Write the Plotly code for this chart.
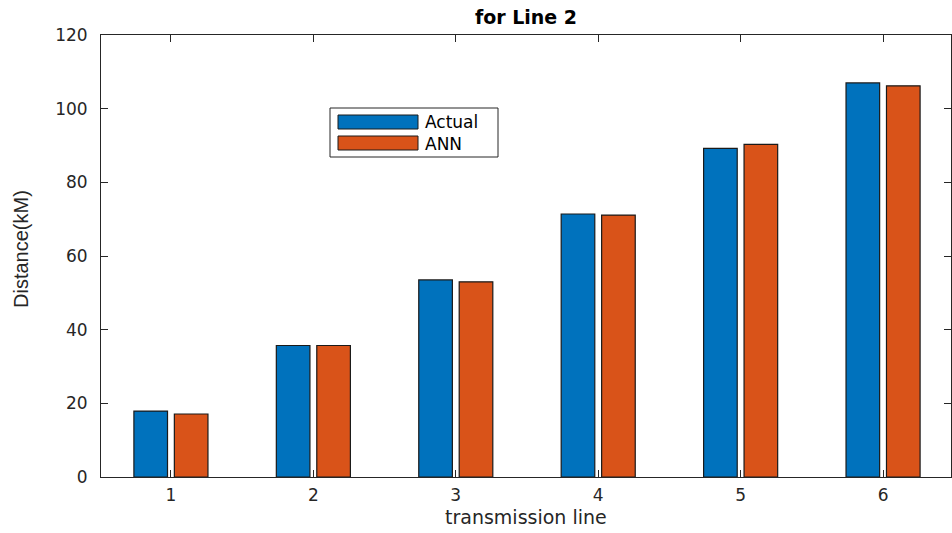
import plotly.graph_objects as go

categories = [1, 2, 3, 4, 5, 6]
actual = [17.9, 35.7, 53.5, 71.4, 89.2, 107.0]
ann = [17.1, 35.7, 53.0, 71.1, 90.3, 106.2]
series_names = ["Actual", "ANN"]
y_ticks = [0, 20, 40, 60, 80, 100, 120]

BLUE = "#0072BD"
ORANGE = "#D95319"
AX = "#262626"
FONT = "DejaVu Sans"

W, H = 952, 533
L, T = 101, 35
PW, PH = 850, 442
R = W - L - PW
B = H - T - PH

def px(x):  # page pixel -> paper
    return (x - L) / PW

def py(y):
    return (T + PH - y) / PH

def cx(x):  # page pixel -> container
    return x / W

def cy(y):
    return 1 - y / H

fig = go.Figure()
fig.add_trace(go.Bar(x=categories, y=actual, name=series_names[0], width=0.236, offset=-0.26,
                     marker=dict(color=BLUE, line=dict(color="#1a1a1a", width=1.2)), showlegend=False))
fig.add_trace(go.Bar(x=categories, y=ann, name=series_names[1], width=0.236, offset=0.024,
                     marker=dict(color=ORANGE, line=dict(color="#1a1a1a", width=1.2)), showlegend=False))

shapes = [
    dict(type="rect", xref="paper", yref="paper", x0=px(330), x1=px(498), y0=py(157), y1=py(108),
         line=dict(color=AX, width=1), fillcolor="white", layer="above"),
    dict(type="rect", xref="paper", yref="paper", x0=px(338), x1=px(418), y0=py(129), y1=py(115),
         line=dict(color="#1a1a1a", width=1), fillcolor=BLUE, layer="above"),
    dict(type="rect", xref="paper", yref="paper", x0=px(338), x1=px(418), y0=py(150), y1=py(136),
         line=dict(color="#1a1a1a", width=1), fillcolor=ORANGE, layer="above"),
]
annotations = [
    dict(text=series_names[0], xref="paper", yref="paper", x=px(423), y=py(122.5), xanchor="left",
         yanchor="middle", showarrow=False, font=dict(family=FONT, size=17, color="black")),
    dict(text=series_names[1], xref="paper", yref="paper", x=px(423), y=py(143.5), xanchor="left",
         yanchor="middle", showarrow=False, font=dict(family=FONT, size=17, color="black")),
    dict(text="transmission line", xref="paper", yref="paper", x=px(526), y=py(517), xanchor="center",
         yanchor="middle", showarrow=False, font=dict(family=FONT, size=19, color=AX)),
    dict(text="Distance(kM)", xref="paper", yref="paper", x=px(21), y=py(249), xanchor="center",
         yanchor="middle", textangle=-90, showarrow=False,
         font=dict(family="Liberation Sans", size=20, color=AX)),
]

fig.update_layout(
    width=W, height=H,
    margin=dict(l=L, r=R, t=T, b=B, autoexpand=False),
    paper_bgcolor="white", plot_bgcolor="white",
    barmode="overlay",
    font=dict(family=FONT, size=17, color=AX),
    title=dict(text="<b>for Line 2</b>", x=cx(526), xanchor="center", y=cy(17.5), yanchor="middle",
               font=dict(family=FONT, size=19, color="black")),
    shapes=shapes, annotations=annotations,
    xaxis=dict(range=[0.509, 6.477], tickvals=categories, ticktext=[str(c) for c in categories],
               showgrid=False, zeroline=False, showline=True, linecolor=AX, linewidth=1, mirror="ticks",
               ticks="inside", ticklen=7, tickcolor=AX, tickfont=dict(size=17, color=AX),
               ticklabelstandoff=3),
    yaxis=dict(range=[0, 120], tickvals=y_ticks, showgrid=False, zeroline=False, showline=True,
               linecolor=AX, linewidth=1, mirror="ticks", ticks="inside", ticklen=7, tickcolor=AX,
               tickfont=dict(size=17, color=AX), ticklabelstandoff=9),
)

fig.write_html("out.html", config={"displayModeBar": False},
               post_script="document.body.style.margin='0';document.body.style.overflow='hidden';")
